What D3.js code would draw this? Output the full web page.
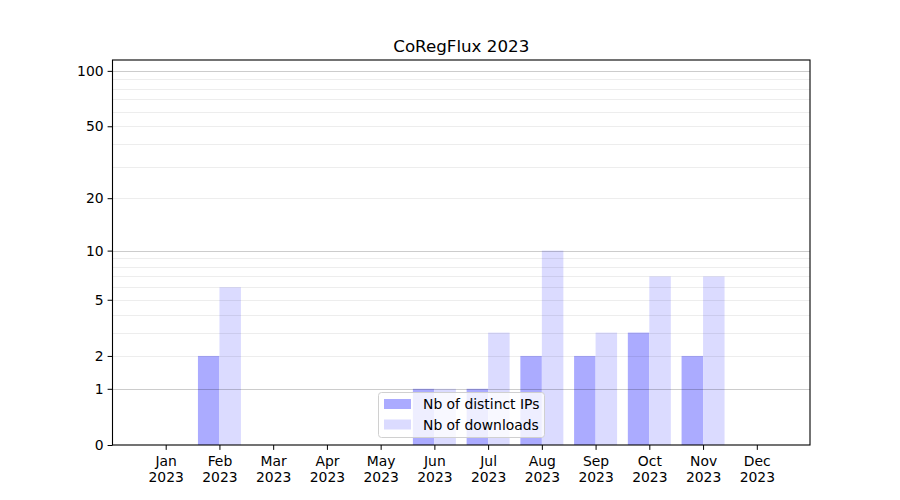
<!DOCTYPE html>
<html>
<head>
<meta charset="utf-8">
<script src="https://cdn.jsdelivr.net/npm/d3@7"></script>
<style>
  body { margin: 0; background: #fff; }
  svg { display: block; font-family: "DejaVu Sans", sans-serif; }
</style>
</head>
<body>
<svg id="chart" width="900" height="500"></svg>
<script>
const months = ["Jan", "Feb", "Mar", "Apr", "May", "Jun", "Jul", "Aug", "Sep", "Oct", "Nov", "Dec"];
const year = "2023";
const distinctIPs = [0, 2, 0, 0, 0, 1, 1, 2, 2, 3, 2, 0];
const downloads = [0, 6, 0, 0, 0, 1, 3, 10, 3, 7, 7, 0];
const yTickValues = [0, 1, 2, 5, 10, 20, 50, 100];
const majorGrid = [1, 10, 100];
const minorGrid = [2, 3, 4, 5, 6, 7, 8, 9, 20, 30, 40, 50, 60, 70, 80, 90];
const seriesNames = ["Nb of distinct IPs", "Nb of downloads"];
const title = "CoRegFlux 2023";

(function() {
const svg = d3.select("#chart");
const pLeft = 112.5, pRight = 810, pTop = 60, pBottom = 445;
const fs = "13.9px";

const x = d3.scaleLinear().domain([-0.99, 11.99]).range([pLeft, pRight]);
const y = d3.scaleSymlog().constant(1).domain([0, 114.5]).range([pBottom, pTop]);
const barW = 0.4;

// bars
svg.append("g").selectAll("rect").data(distinctIPs).join("rect")
  .attr("x", (d, i) => x(i - barW))
  .attr("width", (d, i) => x(i) - x(i - barW))
  .attr("y", d => y(d))
  .attr("height", d => pBottom - y(d))
  .attr("fill", "#ababff");
svg.append("g").selectAll("rect").data(downloads).join("rect")
  .attr("x", (d, i) => x(i))
  .attr("width", (d, i) => x(i + barW) - x(i))
  .attr("y", d => y(d))
  .attr("height", d => pBottom - y(d))
  .attr("fill", "#dbdbff");

// grid (drawn over bars)
svg.append("g").selectAll("line").data(minorGrid).join("line")
  .attr("x1", pLeft).attr("x2", pRight)
  .attr("y1", d => Math.round(y(d)) + 0.5).attr("y2", d => Math.round(y(d)) + 0.5)
  .attr("stroke", "#000").attr("stroke-opacity", 0.07).attr("stroke-width", 1);
svg.append("g").selectAll("line").data(majorGrid).join("line")
  .attr("x1", pLeft).attr("x2", pRight)
  .attr("y1", d => Math.round(y(d)) + 0.5).attr("y2", d => Math.round(y(d)) + 0.5)
  .attr("stroke", "#000").attr("stroke-opacity", 0.2).attr("stroke-width", 1);

// axes
const yAxis = d3.axisLeft(y).tickValues(yTickValues).tickFormat(d3.format("d")).tickSize(4.9).tickPadding(4);
const gy = svg.append("g").attr("transform", `translate(${pLeft},0)`).call(yAxis);
gy.select(".domain").remove();
gy.selectAll("text").attr("font-size", fs).attr("fill", "#000").attr("font-family", "DejaVu Sans");
gy.selectAll("line").attr("stroke", "#000");

const xAxis = d3.axisBottom(x).tickValues(d3.range(months.length)).tickFormat("").tickSize(4.9);
const gx = svg.append("g").attr("transform", `translate(0,${pBottom})`).call(xAxis);
gx.select(".domain").remove();
gx.selectAll("line").attr("stroke", "#000");
gx.selectAll(".tick").append("text")
  .attr("text-anchor", "middle").attr("fill", "#000").attr("font-size", fs)
  .attr("font-family", "DejaVu Sans")
  .each(function(d) {
    const t = d3.select(this);
    t.append("tspan").attr("x", 0).attr("y", 21).text(months[d]);
    t.append("tspan").attr("x", 0).attr("y", 37).text(year);
  });

// frame
svg.append("rect").attr("x", pLeft).attr("y", pTop).attr("width", pRight - pLeft).attr("height", pBottom - pTop)
  .attr("fill", "none").attr("stroke", "#000").attr("stroke-width", 1.1);

// title
svg.append("text").attr("x", (pLeft + pRight) / 2).attr("y", 52).attr("text-anchor", "middle")
  .attr("font-size", "16.7px").attr("fill", "#000").text(title);

// legend
const lg = svg.append("g");
lg.append("rect").attr("x", 378.5).attr("y", 392.5).attr("width", 166).attr("height", 45).attr("rx", 3)
  .attr("fill", "#fff").attr("fill-opacity", 0.8).attr("stroke", "#d0d0d0");
const legColors = ["#ababff", "#dbdbff"];
seriesNames.forEach((name, i) => {
  lg.append("rect").attr("x", 384).attr("y", 399 + i * 20.5).attr("width", 27).attr("height", 10)
    .attr("fill", legColors[i]);
  lg.append("text").attr("x", 423).attr("y", 409 + i * 20.5).attr("font-size", fs)
    .attr("fill", "#000").text(name);
});
})();
</script>
</body>
</html>
